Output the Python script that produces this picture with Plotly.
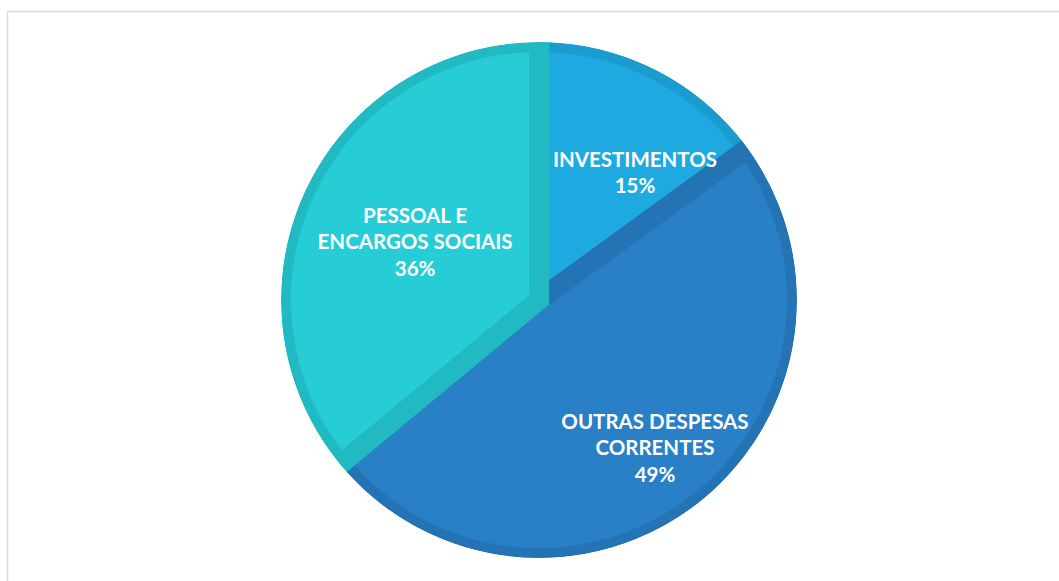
import plotly.graph_objects as go

categories = ["INVESTIMENTOS", "OUTRAS DESPESAS<br>CORRENTES", "PESSOAL E<br>ENCARGOS SOCIAIS"]
values = [15, 49, 36]
fill_colors = ["#1EAAE1", "#2980C6", "#26CDD6"]
edge_colors = ["#1A9CCF", "#2473B4", "#22BAC2"]

# label placement (style, not data): radial fraction and angular nudge in degrees
label_r = [0.611, 0.735, 0.527]
label_nudge = [10.5, 0.1, -0.9]

W, H = 1059, 581
cx, cy, R = 539, 300, 258   # pixel centre / radius of the pie

dx0, dx1 = (cx - R) / W, (cx + R) / W
dy0, dy1 = (H - cy - R) / H, (H - cy + R) / H

total = sum(values)
widths = [v / total * 360 for v in values]
mid_theta = []
acc = 0
for w in widths:
    mid_theta.append(acc + w / 2)
    acc += w
label_theta = [t + n for t, n in zip(mid_theta, label_nudge)]
label_text = [f"<b>{c}<br>{round(v / total * 100)}%</b>" for c, v in zip(categories, values)]

fig = go.Figure()
# pie drawn as polar bars so the labels can sit on top of it
fig.add_trace(go.Barpolar(
    r=[1] * len(values),
    theta=mid_theta,
    width=widths,
    marker=dict(color=fill_colors, line=dict(color=edge_colors, width=20)),
    showlegend=False,
    hoverinfo="skip",
))

fig.add_trace(go.Scatterpolar(
    r=label_r,
    theta=label_theta,
    mode="text",
    text=label_text,
    textposition="middle center",
    textfont=dict(family="Lato", size=20.5, color="white"),
    showlegend=False,
    hoverinfo="skip",
))

# white ring hiding the outer half of the slice border
ring_w = 14
rr = R + ring_w / 2
fig.add_shape(type="circle", xref="paper", yref="paper", layer="above",
              x0=(cx - rr) / W, x1=(cx + rr) / W,
              y0=(H - cy - rr) / H, y1=(H - cy + rr) / H,
              line=dict(color="white", width=ring_w), fillcolor="rgba(0,0,0,0)")

# chart frame
fig.add_shape(type="rect", xref="paper", yref="paper", layer="above",
              x0=7.5 / W, x1=1.02, y0=-0.02, y1=(H - 11.5) / H,
              line=dict(color="#D9D9D9", width=1.5), fillcolor="rgba(0,0,0,0)")

fig.update_layout(
    width=W, height=H,
    margin=dict(l=0, r=0, t=0, b=0),
    paper_bgcolor="white",
    plot_bgcolor="white",
    polar=dict(
        domain=dict(x=[dx0, dx1], y=[dy0, dy1]),
        bgcolor="rgba(0,0,0,0)",
        bargap=0,
        radialaxis=dict(visible=False, range=[0, 1]),
        angularaxis=dict(visible=False, rotation=90, direction="clockwise"),
    ),
)
fig.write_html("out.html", config={"displayModeBar": False},
               post_script="document.body.style.margin='0px';document.body.style.overflow='hidden';")
